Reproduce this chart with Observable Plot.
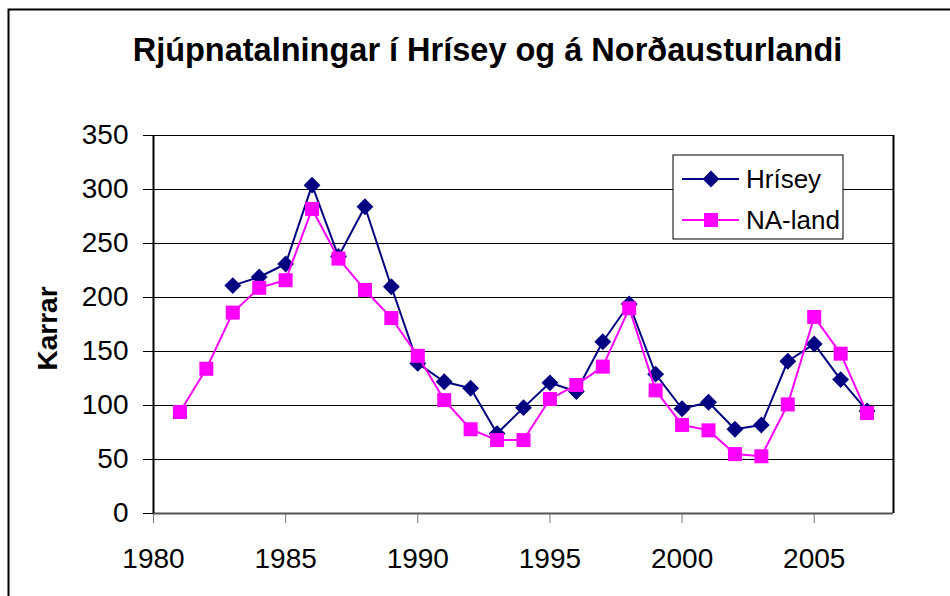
<!DOCTYPE html>
<html>
<head>
<meta charset="utf-8">
<script src="https://cdn.jsdelivr.net/npm/d3@7"></script>
<script src="https://cdn.jsdelivr.net/npm/@observablehq/plot@0.6"></script>
<style>
  html, body { margin: 0; padding: 0; background: #fff; }
  #chart { width: 950px; height: 596px; overflow: hidden; }
</style>
</head>
<body>
<div id="chart"></div>
<script>
const chartTitle = "Rjúpnatalningar í Hrísey og á Norðausturlandi";
const yLabel = "Karrar";
const seriesNames = ["Hrísey", "NA-land"];
const seriesColors = ["#000080", "#FF00FF"];

const hriseyYears = d3.range(1983, 2008);
const hriseyValues = [211, 219, 231, 304, 238, 284, 210, 139, 122, 116,
                      74, 98, 121, 113, 159, 194, 129, 97, 103, 78,
                      82, 141, 157, 124, 95];
const nalandYears = d3.range(1981, 2008);
const nalandValues = [94, 134, 186, 209, 216, 282, 236, 207, 181, 146,
                      105, 78, 68, 68, 106, 119, 136, 190, 114, 82,
                      77, 55, 53, 101, 182, 148, 93];

const xTicks = [1980, 1985, 1990, 1995, 2000, 2005];
const yTicks = [0, 50, 100, 150, 200, 250, 300, 350];

const hrisey = hriseyYears.map((year, i) => ({year, value: hriseyValues[i]}));
const naland = nalandYears.map((year, i) => ({year, value: nalandValues[i]}));

const font = "'Liberation Sans', Arial, Helvetica, sans-serif";

const svg = Plot.plot({
  width: 950,
  height: 596,
  marginLeft: 153,
  marginRight: 57,
  marginTop: 135,
  marginBottom: 83,
  style: {fontFamily: font, fontSize: "28px", color: "black", background: "white"},
  x: {domain: [1980, 2008]},
  y: {domain: [0, 350]},
  marks: [
    Plot.gridY(yTicks, {stroke: "black", strokeOpacity: 1, strokeWidth: 1}),
    Plot.axisY(yTicks, {tickSize: 10, tickPadding: 15, stroke: "black", fill: "black", fontSize: 28, label: null}),
    Plot.axisX(xTicks, {tickSize: 10, tickPadding: 25, stroke: "#777", fill: "black", fontSize: 28, tickFormat: d => String(d), label: null}),
    Plot.ruleY([0], {stroke: "#555", strokeWidth: 2}),
    Plot.ruleX([1980], {stroke: "black", strokeWidth: 2}),
    Plot.ruleX([2008], {stroke: "black", strokeWidth: 2}),
    Plot.line(hrisey, {x: "year", y: "value", stroke: seriesColors[0], strokeWidth: 2}),
    Plot.dot(hrisey, {x: "year", y: "value", symbol: "diamond2", r: 7.6, fill: seriesColors[0], stroke: "none"}),
    Plot.line(naland, {x: "year", y: "value", stroke: seriesColors[1], strokeWidth: 2}),
    Plot.dot(naland, {x: "year", y: "value", symbol: "square", r: 7.9, fill: seriesColors[1], stroke: "none"}),
    Plot.text([chartTitle], {frameAnchor: "top", dx: -36, dy: -85, lineAnchor: "middle", fontSize: 32.5, fontWeight: "bold", fill: "black"}),
    Plot.text([yLabel], {frameAnchor: "left", dx: -97, dy: 4, rotate: -90, lineAnchor: "bottom", textAnchor: "middle", fontSize: 28, fontWeight: "bold", fill: "black"})
  ]
});

const s = d3.select(svg);
// outer chart border
s.append("rect").attr("x", 8.5).attr("y", 9.5).attr("width", 960).attr("height", 600)
  .attr("fill", "none").attr("stroke", "black").attr("stroke-width", 2);

// legend
const lg = s.append("g");
lg.append("rect").attr("x", 673).attr("y", 155).attr("width", 170).attr("height", 84)
  .attr("fill", "white").attr("stroke", "black").attr("stroke-width", 1);
const rows = [179, 220];
seriesNames.forEach((name, i) => {
  const y = rows[i];
  lg.append("line").attr("x1", 682).attr("x2", 739).attr("y1", y).attr("y2", y)
    .attr("stroke", seriesColors[i]).attr("stroke-width", 2);
  if (i === 0) {
    lg.append("path").attr("d", d3.symbol(d3.symbolDiamond2, 180)()).attr("transform", `translate(711,${y})`)
      .attr("fill", seriesColors[i]);
  } else {
    lg.append("rect").attr("x", 711 - 7).attr("y", y - 7).attr("width", 14).attr("height", 14)
      .attr("fill", seriesColors[i]);
  }
  lg.append("text").attr("x", 746).attr("y", y).attr("dy", "0.35em")
    .attr("text-anchor", "start")
    .attr("font-size", 26).attr("font-family", font).attr("fill", "black").text(name);
});

document.getElementById("chart").appendChild(svg);
</script>
</body>
</html>
